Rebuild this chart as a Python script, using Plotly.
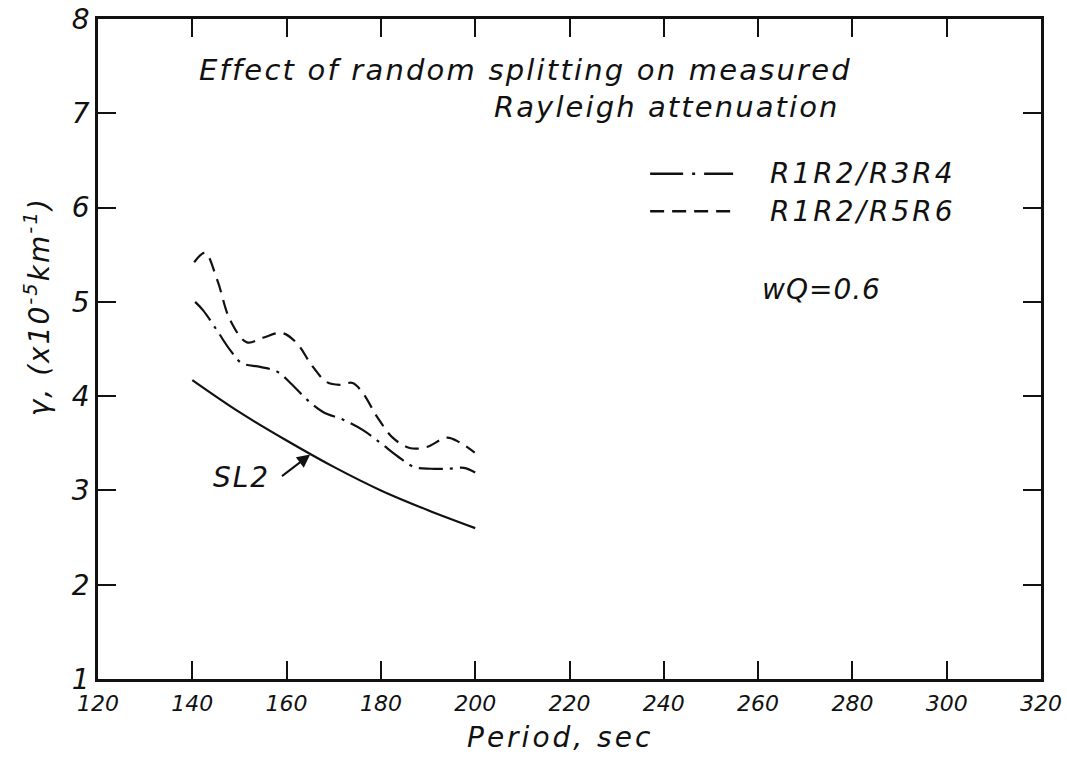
import plotly.graph_objects as go

# ---- data ----
period_sl2 = [140, 150, 160, 170, 180, 190, 200]
gamma_sl2 = [4.17, 3.83, 3.53, 3.25, 3.00, 2.79, 2.60]

period_r34 = [140.6, 142.3, 145.2, 148.0, 150.5, 154.4, 158.0, 160.8, 164.4, 167.8,
              172.0, 176.2, 180.0, 183.6, 187.0, 190.6, 194.2, 197.6, 200.0]
gamma_r34 = [5.00, 4.91, 4.70, 4.49, 4.35, 4.31, 4.26, 4.14, 3.96, 3.83,
             3.75, 3.64, 3.50, 3.36, 3.25, 3.23, 3.23, 3.24, 3.19]

period_r56 = [140.4, 142.7, 145.3, 148.0, 151.6, 155.0, 159.0, 162.2, 165.3, 168.5,
              171.3, 174.0, 176.2, 179.2, 182.5, 186.1, 189.7, 194.0, 196.7, 199.9]
gamma_r56 = [5.42, 5.52, 5.23, 4.81, 4.57, 4.62, 4.67, 4.56, 4.33, 4.15,
             4.12, 4.14, 4.03, 3.78, 3.56, 3.45, 3.46, 3.56, 3.51, 3.40]

x_ticks = [120, 140, 160, 180, 200, 220, 240, 260, 280, 300, 320]
y_ticks = [1, 2, 3, 4, 5, 6, 7, 8]

FONT = "DejaVu Sans"
INK = "#111111"
DASHDOT = "24px,7px,3px,7px"
DASHDOT_KEY = "33px,9px,3px,9px"
DASH = "14px,8px"

fig = go.Figure()
fig.add_trace(go.Scatter(x=period_sl2, y=gamma_sl2, mode="lines", line_shape="spline",
                         line=dict(color=INK, width=2.2), name="SL2", showlegend=False))
fig.add_trace(go.Scatter(x=period_r34, y=gamma_r34, mode="lines", line_shape="spline",
                         line=dict(color=INK, width=2.2, dash=DASHDOT),
                         name="R1R2/R3R4", showlegend=False))
fig.add_trace(go.Scatter(x=period_r56, y=gamma_r56, mode="lines", line_shape="spline",
                         line=dict(color=INK, width=2.2, dash=DASH),
                         name="R1R2/R5R6", showlegend=False))

axis_common = dict(showgrid=False, zeroline=False, showline=True, linecolor=INK, linewidth=2.5,
                   ticks="inside", ticklen=18, tickwidth=2, tickcolor=INK, mirror="ticks",
                   automargin=False)

fig.update_xaxes(range=[120, 320], tickvals=x_ticks, ticktext=[str(v) for v in x_ticks],
                 tickfont=dict(family=FONT, size=22, color=INK, style="italic"),
                 ticklabelstandoff=3, **axis_common)
fig.update_yaxes(range=[1, 8], tickvals=y_ticks, ticktext=[str(v) for v in y_ticks],
                 tickfont=dict(family=FONT, size=28, color=INK, style="italic"), **axis_common)


def txt(s, sp=3):
    return f'<span style="letter-spacing:{sp}px">{s}</span>'


def afont(size=28):
    return dict(family=FONT, size=size, color=INK, style="italic")


# title lines
fig.add_annotation(x=141.0, y=7.459, xref="x", yref="y", xanchor="left", yanchor="middle",
                   text=txt("Effect of random splitting on measured", 2.2), showarrow=False,
                   font=afont(29))
fig.add_annotation(x=203.6, y=7.067, xref="x", yref="y", xanchor="left", yanchor="middle",
                   text=txt("Rayleigh attenuation", 2.1), showarrow=False, font=afont(29))
# legend
fig.add_shape(type="line", x0=237.1, x1=254.7, y0=6.36, y1=6.36, xref="x", yref="y",
              line=dict(color=INK, width=2.5, dash=DASHDOT_KEY))
fig.add_shape(type="line", x0=237.1, x1=254.7, y0=5.96, y1=5.96, xref="x", yref="y",
              line=dict(color=INK, width=2.5, dash=DASH))
fig.add_annotation(x=262.1, y=6.36, xref="x", yref="y", xanchor="left", yanchor="middle",
                   text=txt("R1R2/R3R4", 3), showarrow=False, font=afont(28))
fig.add_annotation(x=262.1, y=5.96, xref="x", yref="y", xanchor="left", yanchor="middle",
                   text=txt("R1R2/R5R6", 3), showarrow=False, font=afont(28))
fig.add_annotation(x=260.4, y=5.13, xref="x", yref="y", xanchor="left", yanchor="middle",
                   text=txt("wQ=0.6", 1), showarrow=False, font=afont(28))
# SL2 label with arrow
fig.add_annotation(x=150.5, y=3.14, xref="x", yref="y", xanchor="center", yanchor="middle",
                   text=txt("SL2", 2), showarrow=False, font=afont(28))
fig.add_annotation(x=165.0, y=3.38, ax=158.7, ay=3.14, xref="x", yref="y", axref="x", ayref="y",
                   text="", showarrow=True, arrowhead=2, arrowsize=1.3, arrowwidth=2, arrowcolor=INK)
# axis titles
fig.add_annotation(x=-0.064, y=4.95, xref="paper", yref="y", xanchor="center", yanchor="middle",
                   textangle=-90, text=txt("γ, (x10<sup>-5</sup>km<sup>-1</sup>)", 2),
                   showarrow=False, font=afont(28))
fig.add_annotation(x=218, y=-0.089, xref="x", yref="paper", xanchor="center", yanchor="middle",
                   text=txt("Period, sec", 3), showarrow=False, font=afont(28))

fig.update_layout(width=1067, height=758, margin=dict(l=98, r=26, t=19, b=79),
                  paper_bgcolor="white", plot_bgcolor="white", showlegend=False)

fig.write_html("out.html")
